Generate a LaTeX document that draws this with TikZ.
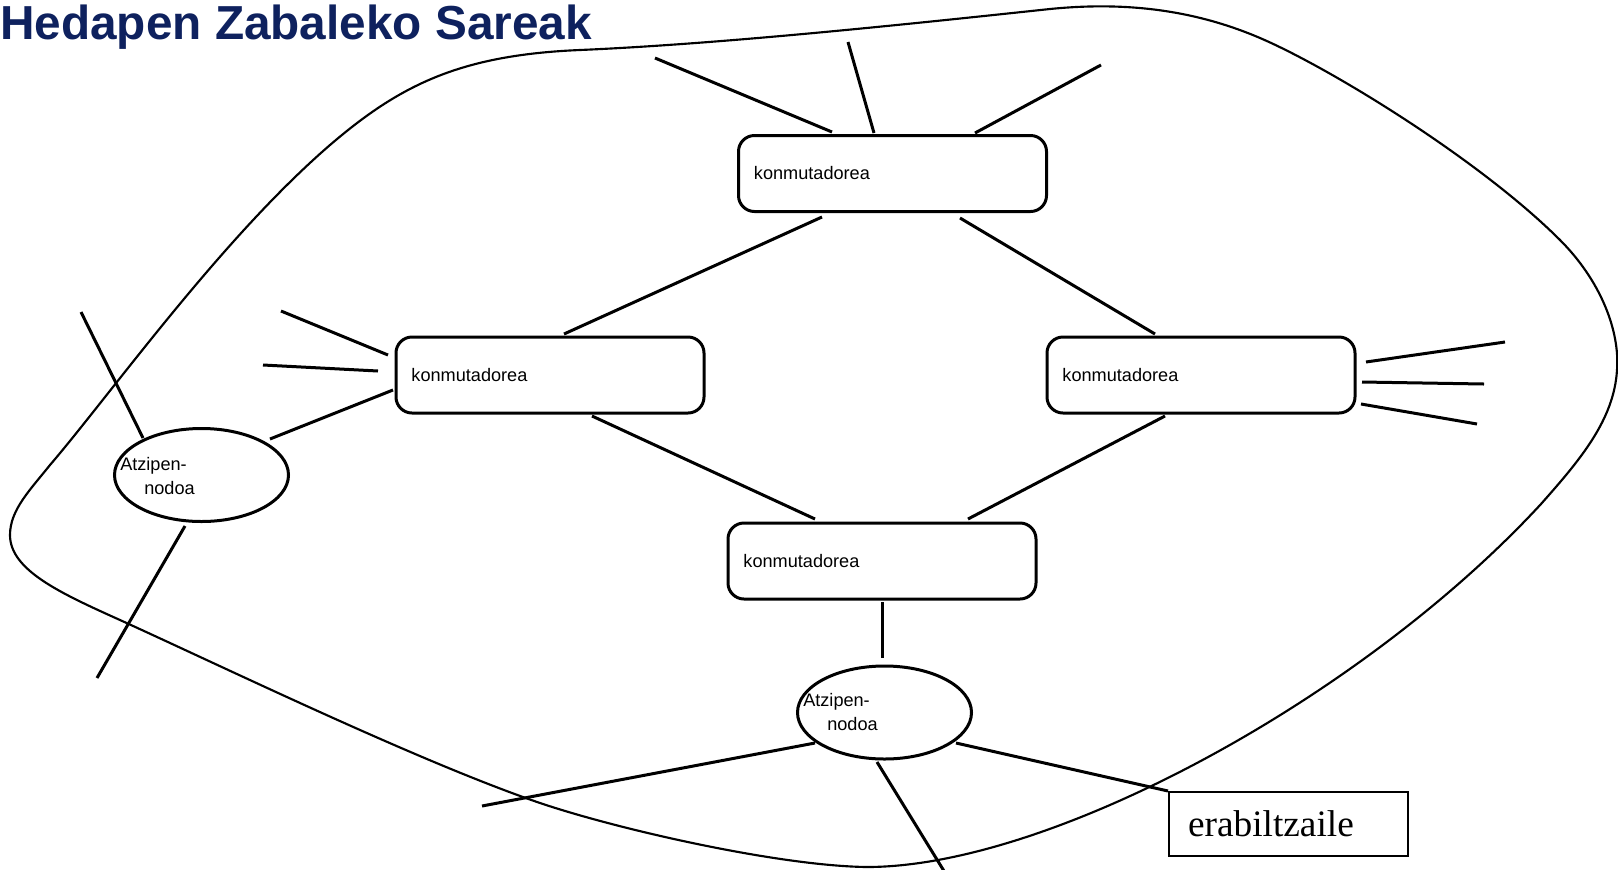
\documentclass[tikz,border=0pt]{standalone}
\usepackage{fontspec}
\setmainfont{Liberation Sans}
\newfontfamily\serifface{Liberation Serif}
\usetikzlibrary{calc,shapes.geometric}
\definecolor{titlenavy}{RGB}{14,33,94}

\begin{document}
\begin{tikzpicture}[x=0.75pt,y=-0.75pt,
  switchbox/.style={draw, line width=2.25pt, rounded corners=12pt,
    minimum width=231pt, minimum height=57pt, inner xsep=11.6pt,
    text width=207.8pt, align=left, font=\fontsize{13.6pt}{16pt}\selectfont},
  accessnode/.style={draw, ellipse, line width=2.25pt, minimum width=130.5pt,
    minimum height=69.75pt, inner sep=0pt},
  nodetext/.style={inner sep=0pt, font=\fontsize{13.6pt}{16pt}\selectfont},
  userbox/.style={draw, line width=1.5pt, minimum width=179.25pt,
    minimum height=48pt, inner xsep=14.25pt, text width=150.75pt, align=left,
    font=\serifface\fontsize{28pt}{30pt}\selectfont},
  wire/.style={line width=2.25pt},
  cloud/.style={line width=1.6pt}
]
\useasboundingbox (0,0) rectangle (1618,869);

% network cloud
\draw[cloud] (10,535)
  .. controls (10,510) and (30,490) .. (50,465)
  .. controls (110,395) and (220,240) .. (330,145)
  .. controls (400,85) and (460,55) .. (580,50)
  .. controls (720,44) and (900,25) .. (1050,9)
  .. controls (1120,2) and (1190,8) .. (1260,38)
  .. controls (1330,68) and (1480,160) .. (1560,240)
  .. controls (1600,280) and (1620,330) .. (1617,370)
  .. controls (1614,420) and (1580,460) .. (1541,504)
  .. controls (1361,699) and (1050,867) .. (867,867)
  .. controls (780,866) and (620,830) .. (540,803)
  .. controls (420,762) and (230,670) .. (120,620)
  .. controls (60,593) and (10,570) .. cycle;

% title
\node[anchor=base west, inner sep=0pt, text=titlenavy,
  font=\fontsize{35.8pt}{40pt}\selectfont\bfseries] (title) at (0,39)
  {Hedapen Zabaleko Sareak};

% switches
\node[switchbox] (sw1) at (892.5,173.5) {konmutadorea};
\node[switchbox] (sw2) at (550,375) {konmutadorea};
\node[switchbox] (sw3) at (1201,375) {konmutadorea};
\node[switchbox] (sw4) at (882,561) {konmutadorea};

% access nodes
\node[accessnode] (an1) at (201.5,475) {};
\node[nodetext, anchor=base west] (an1a) at (120,470) {Atzipen-};
\node[nodetext, anchor=base west] (an1b) at (144,494) {nodoa};
\node[accessnode] (an2) at (884.5,712.5) {};
\node[nodetext, anchor=base west] (an2a) at (803,706) {Atzipen-};
\node[nodetext, anchor=base west] (an2b) at (827,730) {nodoa};

% user
\node[userbox] (user) at (1288.5,824) {erabiltzaile};

% free line ends
\coordinate (f1) at (655,58);
\coordinate (f2) at (848,42);
\coordinate (f3) at (1101,65);
\coordinate (f4) at (281,311);
\coordinate (f5) at (263,365);
\coordinate (f6) at (81,312);
\coordinate (f7) at (97,678);
\coordinate (f8) at (1505,342);
\coordinate (f9) at (1484,384);
\coordinate (f10) at (1477,424);
\coordinate (f11) at (482,806);
\coordinate (f12) at (944,871);

% links of the top switch
\draw[wire] ($(sw1.center)+(-60.5,-41.5)$) -- (f1);
\draw[wire] ($(sw1.center)+(-18.5,-40.5)$) -- (f2);
\draw[wire] ($(sw1.center)+(82.5,-40.5)$) -- (f3);
\draw[wire] ($(sw1.center)+(-70.5,43.5)$) -- ($(sw2.center)+(14,-41)$);
\draw[wire] ($(sw1.center)+(67.5,44.5)$) -- ($(sw3.center)+(-46,-41)$);

% links between the middle and bottom switches
\draw[wire] ($(sw2.center)+(42,41)$) -- ($(sw4.center)+(-67,-42)$);
\draw[wire] ($(sw3.center)+(-36,41)$) -- ($(sw4.center)+(86,-42)$);
\draw[wire] ($(sw4.center)+(0,41)$) -- ($(an2.center)+(-2.5,-54.5)$);

% left switch and access node
\draw[wire] ($(sw2.center)+(-162,-20)$) -- (f4);
\draw[wire] ($(sw2.center)+(-172,-4)$) -- (f5);
\draw[wire] ($(an1.center)+(68.5,-36)$) -- ($(sw2.center)+(-157,15)$);
\draw[wire] ($(an1.center)+(-58.5,-37)$) -- (f6);
\draw[wire] ($(an1.center)+(-16.5,51)$) -- (f7);

% right switch
\draw[wire] ($(sw3.center)+(165,-13)$) -- (f8);
\draw[wire] ($(sw3.center)+(161,7)$) -- (f9);
\draw[wire] ($(sw3.center)+(160,29)$) -- (f10);

% bottom access node
\draw[wire] ($(an2.center)+(-69.5,30.5)$) -- (f11);
\draw[wire] ($(an2.center)+(71.5,30.5)$) -- (user.north west);
\draw[wire] ($(an2.center)+(-7.5,49.5)$) -- (f12);
\end{tikzpicture}
\end{document}
